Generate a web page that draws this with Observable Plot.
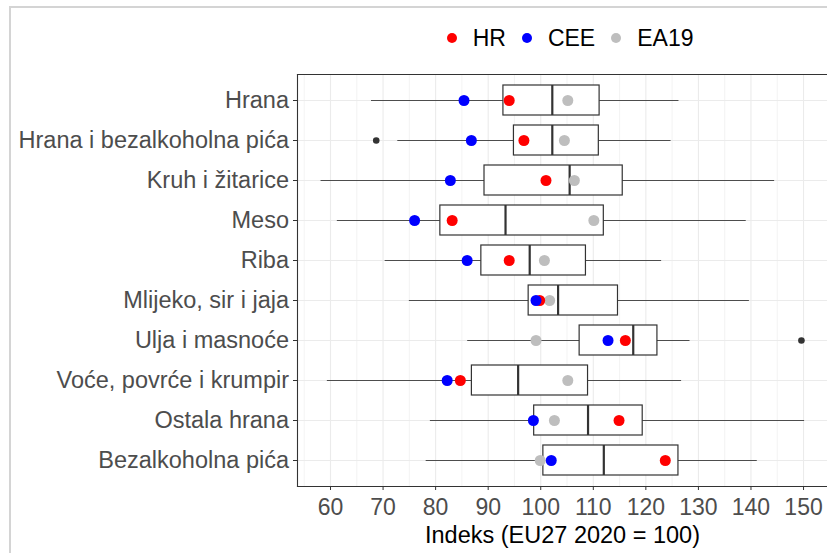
<!DOCTYPE html>
<html>
<head>
<meta charset="utf-8">
<script src="https://cdn.jsdelivr.net/npm/d3@7"></script>
<script src="https://cdn.jsdelivr.net/npm/@observablehq/plot@0.6"></script>
<style>
  html, body { margin: 0; padding: 0; background: white; }
  #wrap { position: relative; width: 827px; height: 553px; overflow: hidden; font-family: "Liberation Sans", Arial, sans-serif; }
  #outer { position: absolute; left: 9px; top: 6px; width: 900px; height: 700px; border-left: 2px solid #d4d4d4; border-top: 2px solid #d4d4d4; }
  #legend { position: absolute; left: 446.7px; top: 22px; height: 32px; display: flex; align-items: center; font-size: 23px; color: #000; }
  #legend .item { display: flex; align-items: center; margin-right: 16px; }
  #legend .dot { width: 10px; height: 10px; border-radius: 50%; margin-right: 16px; }
  #chart { position: absolute; left: 0; top: 0; }
</style>
</head>
<body>
<div id="wrap">
  <div id="outer"></div>
  <div id="chart"></div>
  <div id="legend"></div>
</div>
<script>
const categories = ["Hrana", "Hrana i bezalkoholna pića", "Kruh i žitarice", "Meso", "Riba", "Mlijeko, sir i jaja", "Ulja i masnoće", "Voće, povrće i krumpir", "Ostala hrana", "Bezalkoholna pića"];
const whiskerLow  = [67.8, 72.8, 58.2, 61.3, 70.4, 75.0, 86.1, 59.4, 79.0, 78.2];
const q1          = [92.9, 94.9, 89.3, 80.9, 88.7, 97.7, 107.4, 86.9, 98.75, 100.5];
const median      = [102.2, 102.2, 105.5, 93.3, 97.9, 103.3, 117.6, 95.7, 109.0, 112.0];
const q3          = [111.2, 111.05, 115.6, 112.0, 108.6, 114.7, 122.2, 109.0, 119.4, 126.2];
const whiskerHigh = [126.3, 124.8, 144.5, 139.1, 123.0, 139.7, 128.4, 126.8, 150.2, 141.2];
const outlierCategory = ["Hrana i bezalkoholna pića", "Ulja i masnoće"];
const outlierValue = [68.7, 149.6];
const hr   = [94.0, 96.8, 101.0, 83.15, 94.0, 99.8, 116.1, 84.7, 114.9, 123.7];
const cee  = [85.4, 86.8, 82.8, 76.0, 86.0, 99.1, 112.8, 82.2, 98.6, 102.0];
const ea19 = [105.15, 104.5, 106.4, 110.1, 100.7, 101.7, 99.1, 105.15, 102.6, 99.9];
const seriesNames = ["HR", "CEE", "EA19"];
const seriesColors = ["#ff0000", "#0000ff", "#bebebe"];
const xTicks = [60, 70, 80, 90, 100, 110, 120, 130, 140, 150];
const xMinorTicks = [55, 65, 75, 85, 95, 105, 115, 125, 135, 145, 155];
const xTitle = "Indeks (EU27 2020 = 100)";

const rows = categories.map((c, i) => ({category: c, low: whiskerLow[i], q1: q1[i], median: median[i], q3: q3[i], high: whiskerHigh[i]}));
const outliers = outlierCategory.map((c, i) => ({category: c, value: outlierValue[i]}));
const seriesValues = {HR: hr, CEE: cee, EA19: ea19};
const points = s => categories.map((c, i) => ({category: c, value: seriesValues[s][i], series: s}));

const chart = Plot.plot({
  width: 827,
  height: 553,
  marginLeft: 297,
  marginRight: 0,
  marginTop: 74,
  marginBottom: 67,
  style: {fontFamily: "'Liberation Sans', Arial, sans-serif", background: "transparent", overflow: "visible"},
  x: {domain: [53.72, 154.56], axis: null},
  y: {domain: categories, type: "band", paddingInner: 0.25, paddingOuter: 0.225, axis: null},
  color: {domain: seriesNames, range: seriesColors},
  marks: [
    Plot.ruleX(xMinorTicks, {stroke: "#ebebeb", strokeWidth: 0.6}),
    Plot.ruleX(xTicks, {stroke: "#ebebeb", strokeWidth: 1.1}),
    Plot.ruleY(categories, {y: d => d, stroke: "#ebebeb", strokeWidth: 1.1}),
    Plot.ruleY(rows, {y: "category", x1: "low", x2: "high", stroke: "#4d4d4d", strokeWidth: 1.2}),
    Plot.rectX(rows, {y: "category", x1: "q1", x2: "q3", fill: "white", stroke: "#333", strokeWidth: 1.2}),
    Plot.tickX(rows, {y: "category", x: "median", stroke: "#333", strokeWidth: 2.2}),
    Plot.dot(outliers, {y: "category", x: "value", r: 3.3, fill: "#333", stroke: null}),
    Plot.dot(points("EA19"), {y: "category", x: "value", fill: "series", r: 5.5}),
    Plot.dot(points("HR"), {y: "category", x: "value", fill: "series", r: 5.5}),
    Plot.dot(points("CEE"), {y: "category", x: "value", fill: "series", r: 5.5}),
    Plot.frame({anchor: "left", stroke: "#333", strokeWidth: 1.1}),
    Plot.frame({anchor: "top", stroke: "#333", strokeWidth: 1.1}),
    Plot.frame({anchor: "bottom", stroke: "#333", strokeWidth: 1.1}),
    Plot.axisX(xTicks, {tickSize: 4, tickPadding: 8, fontSize: 23, fill: "#4d4d4d", stroke: "#333", label: null}),
    Plot.axisY({tickSize: 4, tickPadding: 4.5, fontSize: 23.5, fill: "#4d4d4d", stroke: "#333", label: null}),
    Plot.text([xTitle], {frameAnchor: "bottom", lineAnchor: "middle", dy: 49, fontSize: 23.5, fill: "black"})
  ]
});
document.getElementById("chart").appendChild(chart);

const legend = document.getElementById("legend");
seriesNames.forEach((s, i) => {
  const item = document.createElement("div");
  item.className = "item";
  const dot = document.createElement("span");
  dot.className = "dot";
  dot.style.background = seriesColors[i];
  const label = document.createElement("span");
  label.textContent = s;
  item.appendChild(dot);
  item.appendChild(label);
  legend.appendChild(item);
});
</script>
</body>
</html>
